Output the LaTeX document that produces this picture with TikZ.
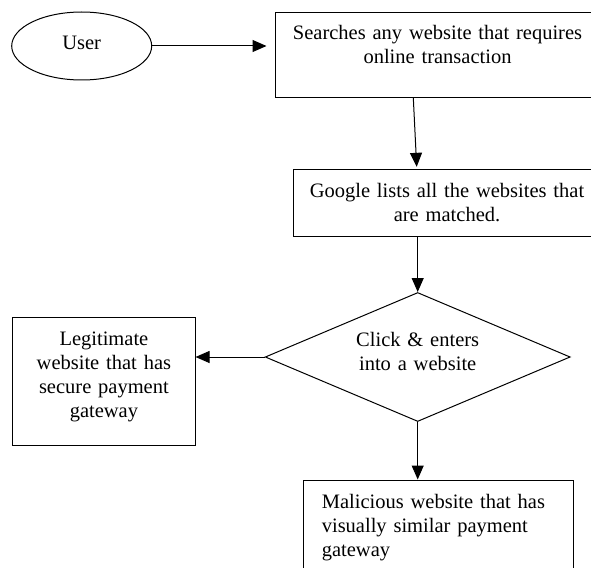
\documentclass[tikz,border=0pt]{standalone}
\usepackage{fontspec}
\setmainfont{Liberation Serif}
\usetikzlibrary{shapes.geometric,arrows.meta}
\begin{document}
\begin{tikzpicture}[x=1pt,y=-1pt,
  every node/.style={draw,line width=1pt,font=\fontsize{20.5}{24}\selectfont,text height=14pt,inner sep=0pt},
  box/.style={rectangle,align=center},
  arrow/.style={-{Triangle[length=14pt,width=12pt]},line width=1pt}]
  \useasboundingbox (0,0) rectangle (591,567);
  \clip (0,0) rectangle (591,567);
  % Start and search
  \node (user) [ellipse,minimum width=140pt,minimum height=68pt,text depth=6pt] at (81.7,46) {User};
  \node (search) [box,minimum width=325pt,minimum height=84.6pt,text width=300pt,text depth=44pt] at (437.5,55)
    {Searches any website that requires\\online transaction};
  \node (google) [box,minimum width=307.4pt,minimum height=66.7pt,text width=290pt,text depth=24.8pt] at (447,202.7)
    {Google lists all the websites that\\are matched.};
  % Decision
  \node (choice) [diamond,aspect=2.36,align=center,minimum width=305pt,minimum height=129pt,text width=140pt,text depth=34.6pt] at (417.7,357)
    {Click \& enters\\into a website};
  \node (legit) [box,minimum width=182.3pt,minimum height=128pt,text width=165pt,text depth=86pt] at (103.9,381)
    {Legitimate\\website that has\\secure payment\\gateway};
  \node (malicious) [box,align=left,minimum width=270pt,minimum height=110pt,text width=233pt,text depth=68pt] at (438.3,535)
    {Malicious website that has\\visually similar payment\\gateway};
  % Connectors
  \draw[arrow,shorten >=8pt] (user.east) -- (user.east -| search.west);
  \draw[arrow] ([xshift=-24.2pt]search.south) -- ([xshift=-30.3pt,yshift=2pt]google.north);
  \draw[arrow] (choice.north |- google.south) -- (choice.north);
  \draw[arrow] (choice.west) -- (choice.west -| legit.east);
  \draw[arrow] (choice.south) -- (choice.south |- malicious.north);
\end{tikzpicture}
\end{document}
